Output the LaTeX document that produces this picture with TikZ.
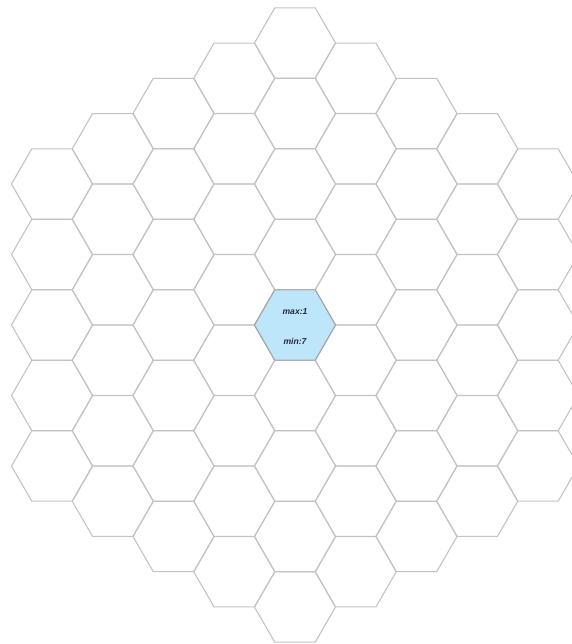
\documentclass[tikz,border=0pt]{standalone}
\usepackage{fontspec}
\setmainfont{Liberation Sans}
\usetikzlibrary{shapes.geometric}
\definecolor{hexline}{RGB}{195,195,195}
\definecolor{hexfill}{RGB}{190,230,250}
\definecolor{hextext}{RGB}{35,40,60}
\begin{document}
\begin{tikzpicture}[x=1pt,y=-1pt,
  hexcell/.style={regular polygon, regular polygon sides=6, minimum size=81pt,
    inner sep=0pt, outer sep=0pt, draw=hexline, line width=1.1pt},
  hexmark/.style={hexcell, fill=hexfill, draw=hexline!85!black},
  marktext/.style={font=\bfseries\itshape\fontsize{8.6}{10}\selectfont, text=hextext}]
\useasboundingbox (0,0) rectangle (571,644);
\foreach \c in {-4,...,4}{
  \pgfmathtruncatemacro{\ac}{abs(\c)}
  \pgfmathtruncatemacro{\nmax}{8-\ac}
  \pgfmathtruncatemacro{\ci}{\c+4}
  \foreach \n in {0,...,\nmax}{
    \pgfmathsetmacro{\hx}{295+60.75*\c}
    \pgfmathsetmacro{\hy}{43+35.25*\ac+70.5*\n}
    \node[hexcell] (hex-\ci-\n) at (\hx,\hy) {};
  }
}
\node[hexmark] (center) at (295,325) {};
\node[marktext] (maxlabel) at (295,312) {max:1};
\node[marktext] (minlabel) at (295,341) {min:7};
\end{tikzpicture}
\end{document}
